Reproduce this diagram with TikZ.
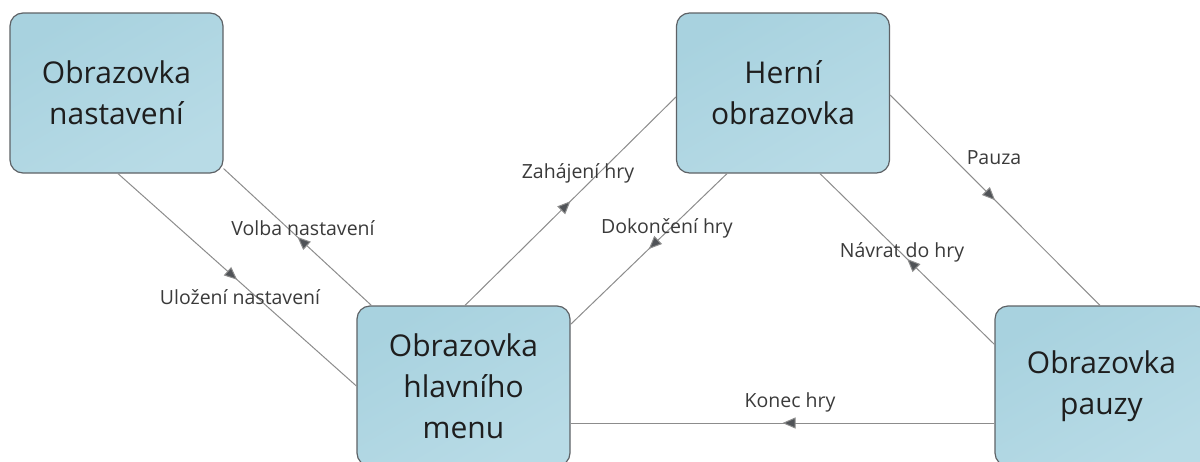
\documentclass[tikz,border=0pt]{standalone}
\usepackage{fontspec}
\setmainfont{Open Sans}
\usetikzlibrary{arrows.meta,decorations.markings}
\definecolor{boxedge}{HTML}{5E6266}
\definecolor{boxfillA}{HTML}{A8D2DF}
\definecolor{boxfillB}{HTML}{B8DBE6}
\definecolor{linkgray}{HTML}{8C8C8C}
\definecolor{tipgray}{HTML}{505357}
\definecolor{textdark}{HTML}{1E1E1E}
\definecolor{labeldark}{HTML}{3A3A3A}
\tikzset{
  screen/.style={draw=boxedge, line width=1.2pt, rounded corners=13pt,
    left color=boxfillA, right color=boxfillB, shading angle=30,
    minimum width=213pt, minimum height=160pt, inner sep=0pt,
    align=center, text=textdark,
    font=\fontsize{30}{41}\selectfont},
  link/.style={draw=linkgray, line width=1pt,
    postaction={decorate},
    decoration={markings,
      mark=at position 0.5 with {\arrow{Triangle[length=13pt,width=11pt,fill=tipgray]}}}},
  lbl/.style={text=labeldark, inner sep=0pt, font=\fontsize{19.5}{22}\selectfont},
}
\begin{document}
\begin{tikzpicture}[x=1pt,y=-1pt]
  \useasboundingbox (0,0) rectangle (1200,461);
  \clip (0,0) rectangle (1200,461);

  % screens
  \node[screen] (nast)  at (116.5,93)  {Obrazovka\\nastavení};
  \node[screen] (menu)  at (463.5,386) {Obrazovka\\hlavního\\menu};
  \node[screen] (hra)   at (783,93)    {Herní\\obrazovka};
  \node[screen] (pauza) at (1101.5,386){Obrazovka\\pauzy};

  % transitions
  \draw[link] ([xshift=1.5pt]nast.south) -- (menu.west);
  \draw[link] ([xshift=15pt]menu.north west) -- ([yshift=5pt]nast.south east);
  \draw[link] ([xshift=1.5pt]menu.north) -- ([yshift=-4pt]hra.west);
  \draw[link] ([xshift=-56pt]hra.south) -- ([yshift=-19pt]menu.north east);
  \draw[link] ([yshift=-2pt]hra.east) -- ([xshift=-1.5pt]pauza.north);
  \draw[link] ([yshift=-39pt]pauza.north west) -- ([xshift=37pt]hra.south);
  \draw[link] ([yshift=-37pt]pauza.west) -- ([yshift=-37pt]menu.east);

  % transition labels
  \node[lbl] (l1) at (240,297) {Uložení nastavení};
  \node[lbl] (l2) at (303,228) {Volba nastavení};
  \node[lbl] (l3) at (578,173) {Zahájení hry};
  \node[lbl] (l4) at (667,228) {Dokončení hry};
  \node[lbl] (l5) at (994,158) {Pauza};
  \node[lbl] (l6) at (902,252) {Návrat do hry};
  \node[lbl] (l7) at (790,402) {Konec hry};
\end{tikzpicture}
\end{document}
